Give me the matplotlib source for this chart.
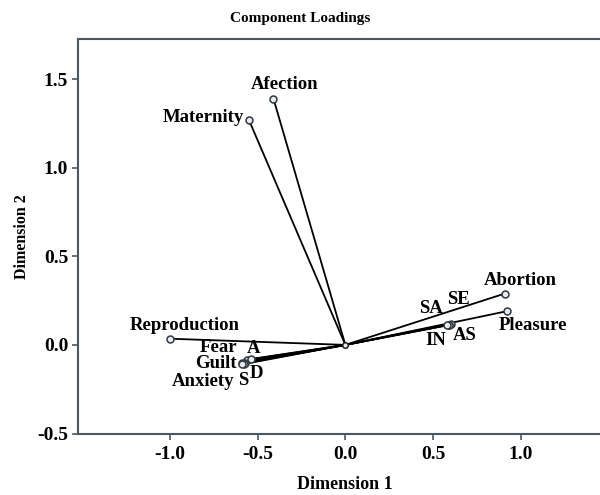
import matplotlib
matplotlib.use("Agg")
import matplotlib.pyplot as plt

# loadings
labels = ["Afection", "Maternity", "Abortion", "SE", "SA", "Pleasure", "AS", "IN",
          "Reproduction", "Fear", "A", "Guilt", "D", "S", "Anxiety"]
dim1 = [-0.41, -0.55, 0.91, 0.60, 0.59, 0.92, 0.59, 0.58,
        -1.00, -0.56, -0.54, -0.59, -0.57, -0.58, -0.59]
dim2 = [1.39, 1.27, 0.29, 0.12, 0.115, 0.19, 0.113, 0.11,
        0.035, -0.085, -0.08, -0.10, -0.10, -0.105, -0.11]

x_ticks = [-1.0, -0.5, 0.0, 0.5, 1.0]
y_ticks = [-0.5, 0.0, 0.5, 1.0, 1.5]

# label offsets in pixels (dx, dy, ha)
offsets = {
    "Afection": (11, 14, "center"),
    "Maternity": (-5, 2, "right"),
    "Abortion": (15, 13, "center"),
    "SE": (8, 24, "center"),
    "SA": (-18, 16, "center"),
    "Pleasure": (-8, -14, "left"),
    "AS": (16, -11, "center"),
    "IN": (-11, -15, "center"),
    "Reproduction": (15, 13, "center"),
    "Fear": (-10, 12, "right"),
    "A": (3, 11, "center"),
    "Guilt": (-5, -1, "right"),
    "D": (11, -11, "center"),
    "S": (0, -17, "center"),
    "Anxiety": (-8, -17, "right"),
}

plt.rcParams["font.family"] = ["Liberation Serif", "DejaVu Serif"]
plt.rcParams["font.weight"] = "bold"

fig = plt.figure(figsize=(6, 4.95), dpi=100)
ax = fig.add_axes([0.13, 0.1242, 0.89, 0.797])

for x, y in zip(dim1, dim2):
    ax.plot([0, x], [0, y], color="black", lw=1.3, zorder=2)
ax.plot(dim1, dim2, "o", ms=5, mfc="#e8ecf0", mec="#303840", mew=1.1, zorder=3)
ax.plot([0], [0], "o", ms=4, mfc="#e8ecf0", mec="#202020", mew=1.1, zorder=3)

for lab, x, y in zip(labels, dim1, dim2):
    dx, dy, ha = offsets[lab]
    ax.annotate(lab, (x, y), xytext=(dx * 0.72, dy * 0.72), textcoords="offset points",
                ha=ha, va="center", fontsize=13.5, fontweight="bold")

ax.set_xlim(-1.524, 1.52)
ax.set_ylim(-0.5, 1.726)
ax.set_xticks(x_ticks)
ax.set_yticks(y_ticks)
ax.set_xticklabels([f"{t:.1f}" for t in x_ticks])
ax.set_yticklabels([f"{t:.1f}" for t in y_ticks])
ax.tick_params(labelsize=14, color="#4a5866", length=4, width=1.2)
ax.tick_params(axis="x", pad=5)
ax.tick_params(axis="y", pad=3)

for s in ax.spines.values():
    s.set_color("#4a5866")
    s.set_linewidth(1.5)

ax.set_xlabel("Dimension 1", fontsize=13, fontweight="bold", labelpad=9)
ax.set_ylabel("Dimension 2", fontsize=11.5, fontweight="bold", labelpad=5)
fig.text(0.5, 0.963, "Component Loadings", ha="center", va="center",
         fontsize=11, fontweight="bold")

fig.savefig("out.png", dpi=100)
